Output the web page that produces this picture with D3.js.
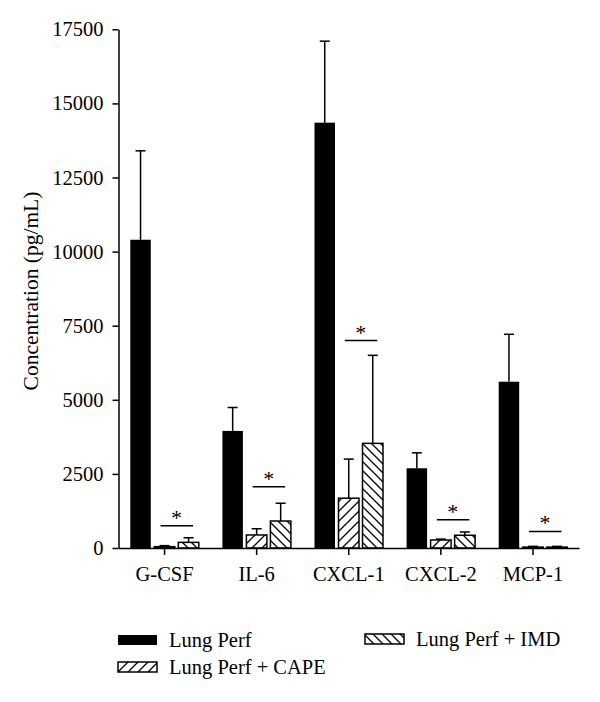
<!DOCTYPE html>
<html>
<head>
<meta charset="utf-8">
<script src="https://cdn.jsdelivr.net/npm/d3@7/dist/d3.min.js"></script>
<style>
  html, body { margin: 0; padding: 0; background: #fff; }
  svg { display: block; }
  text { font-family: "Liberation Serif", "DejaVu Serif", serif; fill: #000; }
</style>
</head>
<body>
<svg id="chart" width="600" height="702"></svg>
<script>
// ---- data ----
const categories = ["G-CSF", "IL-6", "CXCL-1", "CXCL-2", "MCP-1"];
const series = ["Lung Perf", "Lung Perf + CAPE", "Lung Perf + IMD"];
const lungPerf      = [10400, 3950, 14350, 2690, 5610];
const lungPerfErr   = [13400, 4740, 17100, 3210, 7210];
const lungCape      = [45, 440, 1680, 270, 30];
const lungCapeErr   = [80, 650, 3000, 300, 55];
const lungImd       = [190, 910, 3530, 430, 30];
const lungImdErr    = [345, 1510, 6500, 540, 55];
const sigLevel      = [750, 2070, 7000, 955, 560];
const yTicks = [0, 2500, 5000, 7500, 10000, 12500, 15000, 17500];

const svg = d3.select("#chart");
const FONT = 20.5;

// patterns
const defs = svg.append("defs");
function hatch(id, dir, size) {
  const p = defs.append("pattern").attr("id", id)
    .attr("patternUnits", "userSpaceOnUse")
    .attr("width", size).attr("height", size);
  p.append("rect").attr("width", size).attr("height", size).attr("fill", "#fff");
  const d = dir > 0
    ? `M0,${size} L${size},0 M${-size/2},${size/2} L${size/2},${-size/2} M${size/2},${size*1.5} L${size*1.5},${size/2}`
    : `M0,0 L${size},${size} M${-size/2},${size/2} L${size/2},${size*1.5} M${size/2},${-size/2} L${size*1.5},${size/2}`;
  p.append("path").attr("d", d).attr("stroke", "#000").attr("stroke-width", 1.3).attr("fill", "none");
}
hatch("hCape", 1, 10);
hatch("hImd", -1, 9);
const fills = ["#000", "url(#hCape)", "url(#hImd)"];

const y = d3.scaleLinear().domain([0, 17500]).range([548, 29.3]);
const x = d3.scaleBand().domain(categories).range([118.5, 579]).paddingInner(0).paddingOuter(0);
const xs = d3.scaleBand().domain(series).range([-36, 36]).paddingInner(0.146).paddingOuter(0.073);

const values = [lungPerf, lungCape, lungImd];
const errs = [lungPerfErr, lungCapeErr, lungImdErr];

const rows = [];
categories.forEach((c, i) => {
  series.forEach((s, j) => {
    rows.push({ c, s, j, v: values[j][i], e: errs[j][i] });
  });
});

const g = svg.append("g");

// error bars
rows.forEach(r => {
  const cx = x(r.c) + x.bandwidth() / 2 + xs(r.s) + xs.bandwidth() / 2;
  g.append("line").attr("x1", cx).attr("x2", cx)
    .attr("y1", y(r.v)).attr("y2", y(r.e))
    .attr("stroke", "#000").attr("stroke-width", 1.5);
  g.append("line").attr("x1", cx - 5).attr("x2", cx + 5)
    .attr("y1", y(r.e)).attr("y2", y(r.e))
    .attr("stroke", "#000").attr("stroke-width", 1.5);
});

// bars
g.selectAll("rect.bar").data(rows).enter().append("rect")
  .attr("class", "bar")
  .attr("x", d => x(d.c) + x.bandwidth() / 2 + xs(d.s))
  .attr("width", xs.bandwidth())
  .attr("y", d => y(d.v))
  .attr("height", d => y(0) - y(d.v))
  .attr("fill", d => fills[d.j])
  .attr("stroke", d => d.j === 0 ? "none" : "#000")
  .attr("stroke-width", 1.5);

// significance markers
categories.forEach((c, i) => {
  const c1 = x(c) + x.bandwidth() / 2 + xs(series[1]) + xs.bandwidth() / 2;
  const c2 = x(c) + x.bandwidth() / 2 + xs(series[2]) + xs.bandwidth() / 2;
  const yy = y(sigLevel[i]);
  g.append("line").attr("x1", c1 - 4).attr("x2", c2 + 4.5)
    .attr("y1", yy).attr("y2", yy)
    .attr("stroke", "#000").attr("stroke-width", 1.5);
  g.append("text").attr("x", (c1 + c2) / 2).attr("y", yy - 1)
    .attr("text-anchor", "middle").attr("font-size", 22).text("*");
});

// axes
const yAxis = g.append("g").attr("transform", "translate(118.5,0)")
  .call(d3.axisLeft(y).tickValues(yTicks).tickFormat(d3.format("d")).tickSize(6).tickSizeOuter(0).tickPadding(9));
const xAxis = g.append("g").attr("transform", `translate(0,${y(0)})`)
  .call(d3.axisBottom(x).tickSize(7).tickSizeOuter(0).tickPadding(11));
[yAxis, xAxis].forEach(a => {
  a.selectAll("path, line").attr("stroke", "#000").attr("stroke-width", 1.5);
  a.selectAll("text").attr("font-size", FONT).attr("font-family", '"Liberation Serif", serif').attr("fill", "#000");
});

// y title
svg.append("text")
  .attr("transform", "translate(38,291) rotate(-90)")
  .attr("text-anchor", "middle").attr("font-size", 21.5)
  .text("Concentration (pg/mL)");

// legend
const legendItems = [
  { s: series[0], fill: fills[0], sx: 118, sy: 635, stroke: "none" },
  { s: series[1], fill: fills[1], sx: 118, sy: 662, stroke: "#000" },
  { s: series[2], fill: fills[2], sx: 365, sy: 634, stroke: "#000" }
];
const lg = svg.append("g");
legendItems.forEach(it => {
  lg.append("rect").attr("x", it.sx).attr("y", it.sy).attr("width", 39).attr("height", 10)
    .attr("fill", it.fill).attr("stroke", it.stroke).attr("stroke-width", 1.5);
  lg.append("text").attr("x", it.sx + 51).attr("y", it.sy + 12)
    .attr("font-size", 20.5).text(it.s);
});
</script>
</body>
</html>
